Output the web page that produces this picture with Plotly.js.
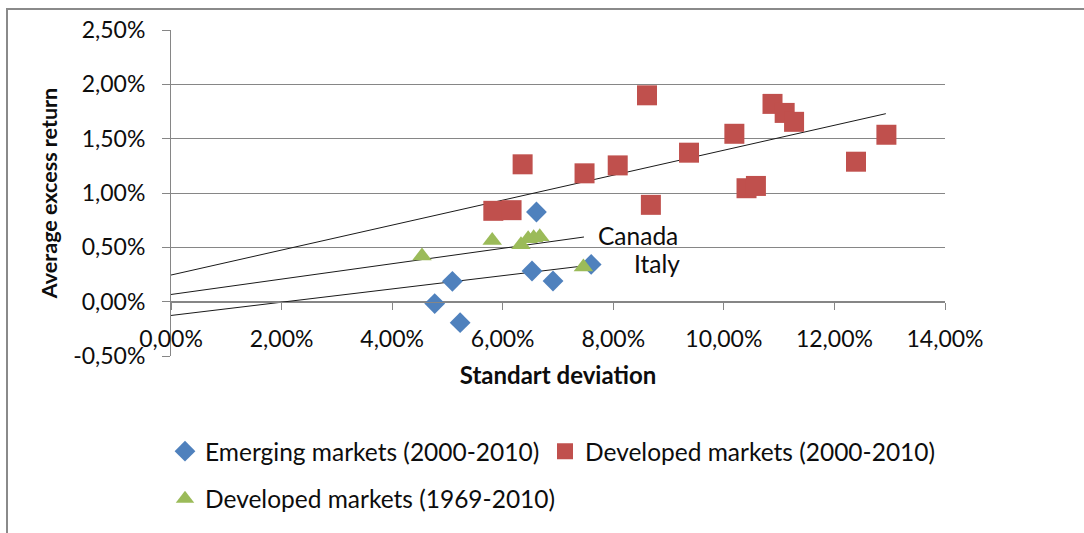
<!DOCTYPE html>
<html>
<head>
<meta charset="utf-8">
<script src="https://cdn.plot.ly/plotly-3.0.1.min.js"></script>
<style>
  html, body { margin: 0; padding: 0; background: #ffffff; }
  #wrap { position: relative; width: 1084px; height: 533px; overflow: hidden; }
  #chart { position: absolute; left: 0; top: 0; width: 1084px; height: 533px; }
  #frame { position: absolute; left: 6px; top: 8px; width: 1200px; height: 600px;
           border-top: 2px solid #8a8a8a; border-left: 2px solid #8a8a8a; pointer-events: none; }
</style>
</head>
<body>
<div id="wrap">
  <div id="chart"></div>
  <div id="frame"></div>
</div>
<script>
// ---- Data (fractions; axis shows percent) ----
const emergingSD  = [0.0661, 0.0509, 0.0477, 0.0523, 0.0653, 0.0691, 0.0760];
const emergingRet = [0.00825, 0.00187, -0.00018, -0.00193, 0.00282, 0.00190, 0.00343];

const devNewSD  = [0.0583, 0.0616, 0.0636, 0.0748, 0.0808, 0.0861, 0.0868, 0.0937, 0.1019, 0.1041, 0.1058, 0.1088, 0.1110, 0.1127, 0.1239, 0.1294];
const devNewRet = [0.00836, 0.00842, 0.01264, 0.01181, 0.01254, 0.01899, 0.00891, 0.01371, 0.01545, 0.01044, 0.01065, 0.01820, 0.01737, 0.01655, 0.01288, 0.01536];

const devOldSD  = [0.0454, 0.0581, 0.0633, 0.0646, 0.0656, 0.0667, 0.0746];
const devOldRet = [0.00420, 0.00564, 0.00524, 0.00580, 0.00589, 0.00598, 0.00319];

// trend lines (endpoints)
const trendDevNewX = [0, 0.1293];
const trendDevNewY = [0.00245, 0.0173];
const trendDevOldX = [0, 0.0747];
const trendDevOldY = [0.00066, 0.00595];
const trendEmX = [0, 0.0755];
const trendEmY = [-0.00127, 0.00334];

const seriesNames = ['Emerging markets (2000-2010)', 'Developed markets (2000-2010)', 'Developed markets (1969-2010)'];
const labelTexts = ['Canada', 'Italy'];
const labelX = [0.0768, 0.0834];
const labelY = [0.00605, 0.0035];

// tick values and labels
const xTickVals = [0, 0.02, 0.04, 0.06, 0.08, 0.10, 0.12, 0.14];
const xTickText = ['0,00%', '2,00%', '4,00%', '6,00%', '8,00%', '10,00%', '12,00%', '14,00%'];
const yTickVals = [-0.005, 0, 0.005, 0.01, 0.015, 0.02, 0.025];
const yTickText = ['-0,50%', '0,00%', '0,50%', '1,00%', '1,50%', '2,00%', '2,50%'];

const xRange = [0, 0.14];
const yRange = [-0.005, 0.025];

const FONT = 'Lato, "Open Sans", sans-serif';
const TXT = '#0d0d0d';
const blue = '#4F81BD', red = '#C0504D', green = '#9BBB59';

const lineStyle = {color: '#1a1a1a', width: 1};

const traces = [
  {x: trendDevNewX, y: trendDevNewY, mode: 'lines', line: lineStyle, showlegend: false, hoverinfo: 'skip'},
  {x: trendDevOldX, y: trendDevOldY, mode: 'lines', line: lineStyle, showlegend: false, hoverinfo: 'skip'},
  {x: trendEmX, y: trendEmY, mode: 'lines', line: lineStyle, showlegend: false, hoverinfo: 'skip'},
  {x: emergingSD, y: emergingRet, mode: 'markers', name: seriesNames[0], legend: 'legend',
   marker: {symbol: 'diamond', size: 16, color: blue, line: {width: 0}}},
  {x: devNewSD, y: devNewRet, mode: 'markers', name: seriesNames[1], legend: 'legend3',
   marker: {symbol: 'square', size: 20, color: red, line: {width: 0}}},
  {x: devOldSD, y: devOldRet, mode: 'markers', name: seriesNames[2], legend: 'legend2',
   marker: {symbol: 'triangle-up', size: 17, color: green, line: {width: 0}}}
];

const W = 1084, H = 533;
const mL = 171, mR = 1084 - 945, mT = 30.5, mB = 533 - 359;
const plotW = W - mL - mR;
const plotH = H - mT - mB;
const zeroPos = (0 - yRange[0]) / (yRange[1] - yRange[0]);

const legendFont = {family: FONT, size: 24.5, color: TXT};
const legendBase = {orientation: 'h', xanchor: 'left', yanchor: 'middle',
  font: legendFont, bgcolor: 'rgba(0,0,0,0)', borderwidth: 0};

const layout = {
  width: W, height: H,
  margin: {l: mL, r: mR, t: mT, b: mB, pad: 0},
  paper_bgcolor: '#ffffff', plot_bgcolor: '#ffffff',
  separators: ', ',
  font: {family: FONT, size: 23, color: TXT},
  showlegend: true,
  xaxis: {
    range: xRange, tickmode: 'array', tickvals: xTickVals, ticktext: xTickText,
    showgrid: false, zeroline: false,
    showline: true, linecolor: '#868686', linewidth: 1,
    anchor: 'free', position: zeroPos,
    ticks: 'outside', ticklen: 7, tickcolor: '#868686', tickwidth: 1,
    ticklabelstandoff: 10,
    tickfont: {family: FONT, size: 23, color: TXT},
    title: {text: 'Standart deviation', font: {family: FONT, size: 24, color: TXT, weight: 'bold'}, standoff: 15},
    fixedrange: true
  },
  yaxis: {
    range: yRange, tickmode: 'array', tickvals: yTickVals, ticktext: yTickText,
    showgrid: true, gridcolor: '#868686', gridwidth: 1,
    zeroline: false,
    showline: true, linecolor: '#868686', linewidth: 1,
    ticks: 'outside', ticklen: 8, tickcolor: '#868686', tickwidth: 1,
    ticklabelstandoff: 12,
    tickfont: {family: FONT, size: 23, color: TXT},
    title: {text: 'Average excess return', font: {family: FONT, size: 21.5, color: TXT, weight: 'bold'}, standoff: 9},
    fixedrange: true
  },
  legend: Object.assign({}, legendBase, {x: (165 - mL) / plotW, y: (359 - 455) / plotH}),
  legend3: Object.assign({}, legendBase, {x: (545 - mL) / plotW, y: (359 - 455) / plotH}),
  legend2: Object.assign({}, legendBase, {x: (165 - mL) / plotW, y: (359 - 503) / plotH}),
  annotations: labelTexts.map((t, i) => ({
    x: labelX[i], y: labelY[i], xref: 'x', yref: 'y', text: t, showarrow: false,
    xanchor: 'left', yanchor: 'middle', height: 27, valign: 'middle',
    font: {family: FONT, size: 24.5, color: TXT}
  }))
};

Plotly.newPlot('chart', traces, layout, {displayModeBar: false, staticPlot: true});
</script>
</body>
</html>
